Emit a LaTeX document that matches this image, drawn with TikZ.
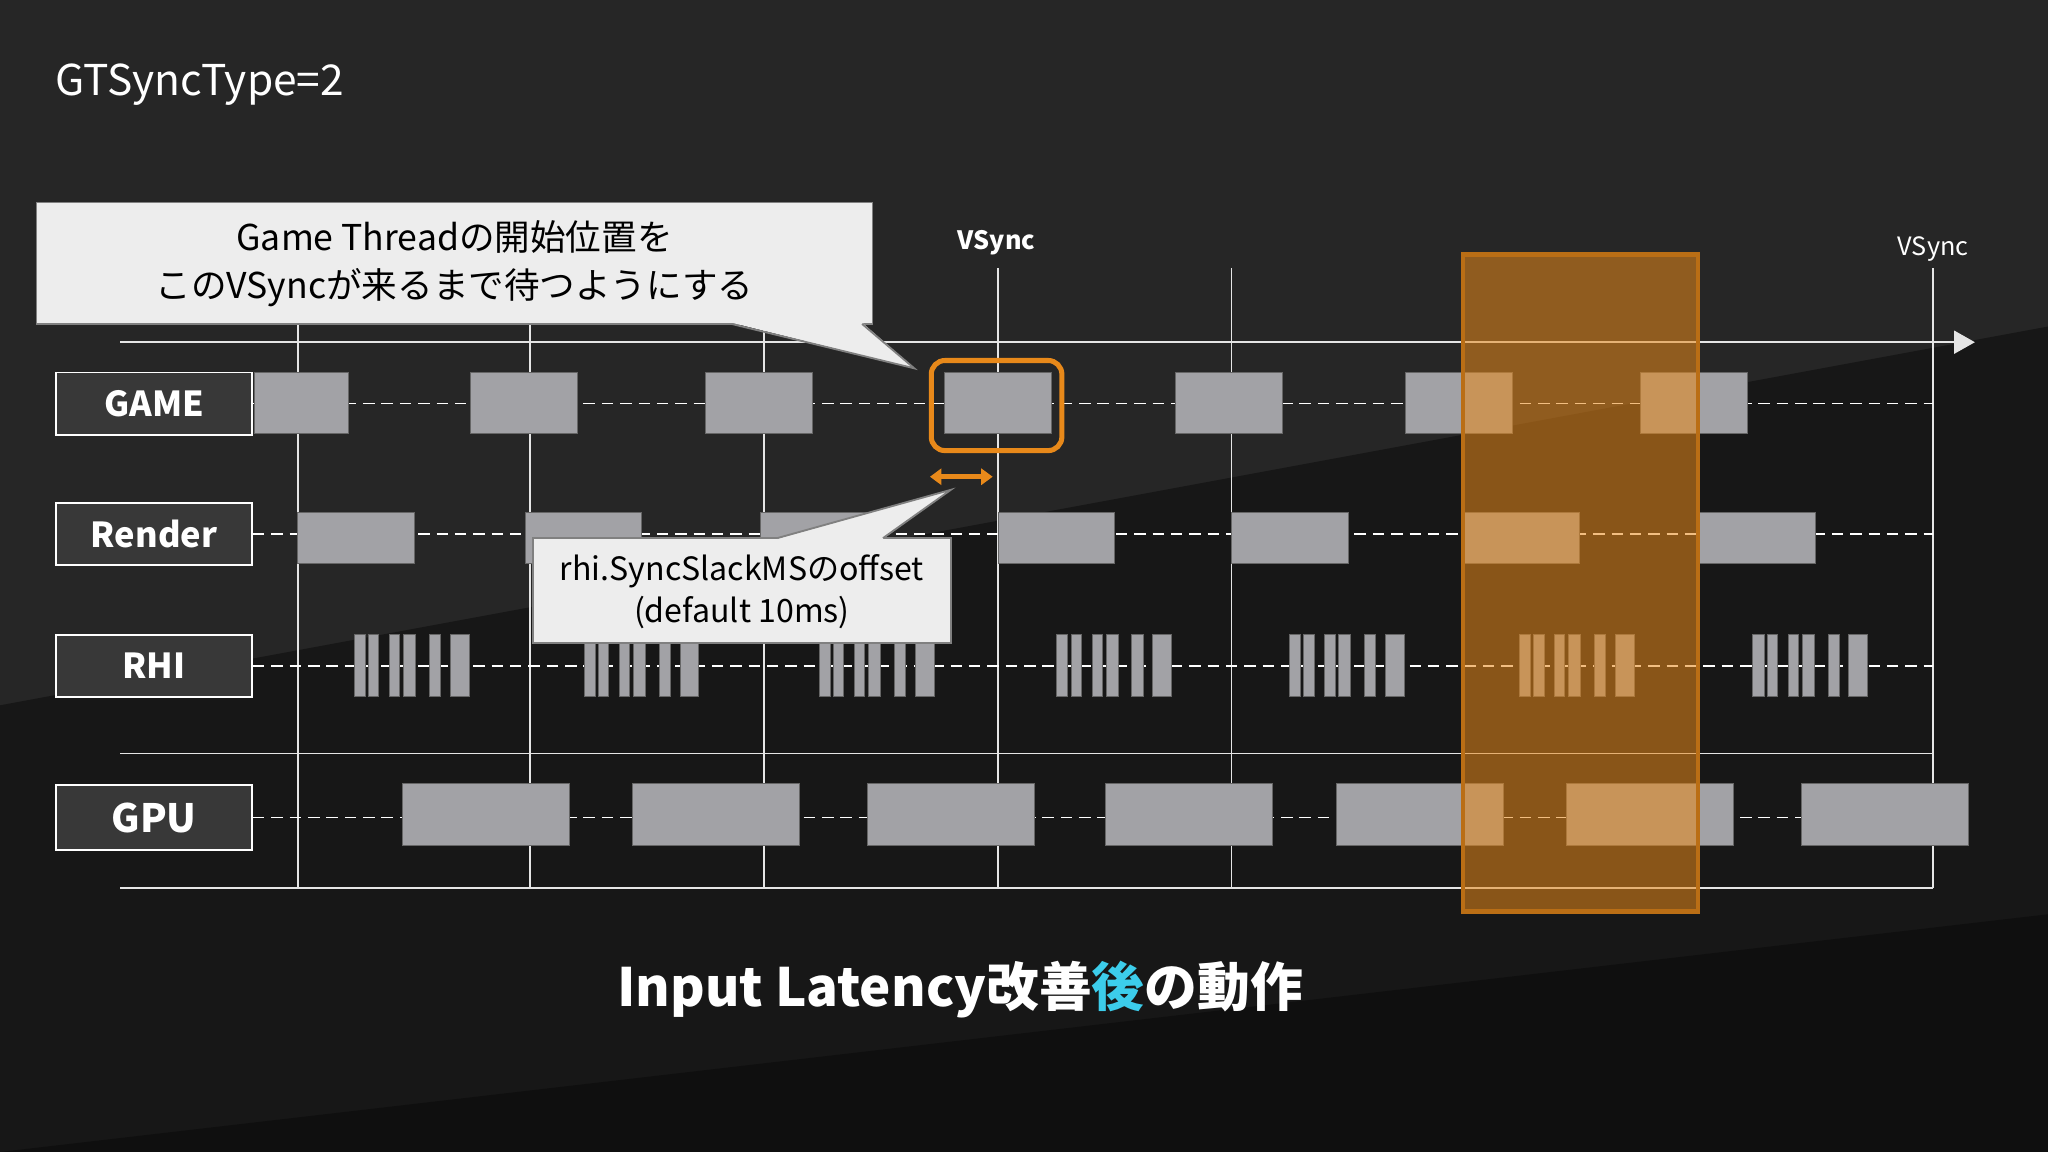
\documentclass[tikz,border=0pt]{standalone}
\usepackage{fontspec}
\setmainfont{Noto Sans CJK JP}
\usetikzlibrary{arrows.meta}
\definecolor{blk}{HTML}{A2A2A6}
\definecolor{org}{HTML}{E8891A}
\definecolor{cyanc}{HTML}{3CCDEB}
\begin{document}
\begin{tikzpicture}[x=0.02cm,y=-0.02cm,
  lab/.style={draw=white,fill=white!22!black,line width=0.8pt,text=white,font=\fontsize{15}{15}\selectfont\bfseries,minimum width=3cm,minimum height=0.95cm,inner sep=0pt},
  dline/.style={white,line width=0.7pt,dash pattern=on 5pt off 3pt},
  vl/.style={white!90!black,line width=0.7pt},
  blkst/.style={fill=blk,draw=black!60,line width=0.3pt},
  call/.style={fill=white!93!black,draw=gray,line width=0.8pt}]
\useasboundingbox (0,0) rectangle (1568,882);
\fill[white!15!black] (0,0) rectangle (1568,882);
\fill[white!9!black] (0,540) -- (1568,250) -- (1568,882) -- (0,882) -- cycle;
\fill[white!6!black] (0,882) -- (1568,700) -- (1568,882) -- cycle;
\node[anchor=west,text=white,font=\fontsize{18.5}{18.5}\selectfont] (title) at (36,65) {GTSyncType=2};
% grid
\foreach \x/\y in {228/248,406/248,585/248,764/205,943/205,1480/205}
  \draw[vl] (\x,\y) -- (\x,680);
\coordinate (al) at (92,262); \coordinate (ar) at (1512,262);
\draw[vl,-{Triangle[length=9pt,width=10pt]}] (al) -- (ar);
\coordinate (m1) at (92,577); \coordinate (m2) at (1480,577);
\coordinate (b1) at (92,680); \coordinate (b2) at (1480,680);
\draw[vl] (m1) -- (m2); \draw[vl] (b1) -- (b2);
\node[text=white,font=\fontsize{11}{11}\selectfont\bfseries] (vs1) at (763,186) {VSync};
\node[text=white,font=\fontsize{11}{11}\selectfont] (vs2) at (1480,191) {VSync};
% labels
\node[lab] (game) at (118,309) {GAME};
\node[lab] (render) at (118,409) {Render};
\node[lab] (rhi) at (118,510) {RHI};
\node[lab,minimum height=1.0cm,font=\fontsize{17}{17}\selectfont\bfseries] (gpu) at (118,626) {GPU};
\draw[dline] (game.east) -- (1480,309);
\draw[dline] (render.east) -- (1480,409);
\draw[dline] (rhi.east) -- (1480,510);
\draw[dline] (gpu.east) -- (1480,626);
% game blocks
\draw[blkst] (195,285) rectangle ++(72,47);
\foreach \x in {360,540,723,900,1076,1256}
  \draw[blkst] (\x,285) rectangle ++(82,47);
% render
\foreach \x in {228,402,582,764,943,1120,1301}
  \draw[blkst] (\x,392) rectangle ++(89,39);
% RHI
\foreach \g in {271,447,627,809,987,1163,1342}
  \foreach \a/\b in {0/8.5,11/19,27/35,38/47,57.5/66,73.5/88}
    \draw[blkst] (\g+\a,486) rectangle (\g+\b,533);
% GPU
\foreach \x in {308,484,664,846,1023,1199,1379}
  \draw[blkst] (\x,600) rectangle ++(128,47);
% orange column
\fill[org,opacity=0.55] (1120,195) rectangle (1300,698);
\draw[org!80!black,line width=2pt] (1120,195) rectangle (1300,698);
% highlight
\draw[org,line width=2.2pt,rounded corners=6pt] (713,276) rectangle (813,345);
\coordinate (da) at (712,365); \coordinate (db) at (760,365);
\draw[org,line width=2pt,{Triangle[length=5pt,width=7pt]}-{Triangle[length=5pt,width=7pt]}] (da) -- (db);
% callout 1
\draw[call] (28,155) rectangle (668,248);
\fill[white!93!black] (560,247) -- (700,282) -- (660,247) -- cycle;
\draw[gray,line width=0.8pt] (560,248) -- (700,282) -- (660,248);
\node[align=center,font=\fontsize{15.5}{21}\selectfont,text=black] (c1) at (348,202) {Game Threadの開始位置を\\このVSyncが来るまで待つようにする};
% callout 2
\draw[call] (408,412) rectangle (728,492);
\fill[white!93!black] (595,412.6) -- (728,375) -- (676,412.6) -- cycle;
\draw[gray,line width=0.8pt] (595,412) -- (728,375) -- (676,412);
\node[align=center,font=\fontsize{14}{18}\selectfont,text=black] (c2) at (568,453) {rhi.SyncSlackMSのoffset\\(default 10ms)};
% bottom title
\node[text=white,font=\fontsize{23}{23}\selectfont\bfseries] (bt) at (735,758) {Input Latency改善\textcolor{cyanc}{後}の動作};
\end{tikzpicture}
\end{document}
